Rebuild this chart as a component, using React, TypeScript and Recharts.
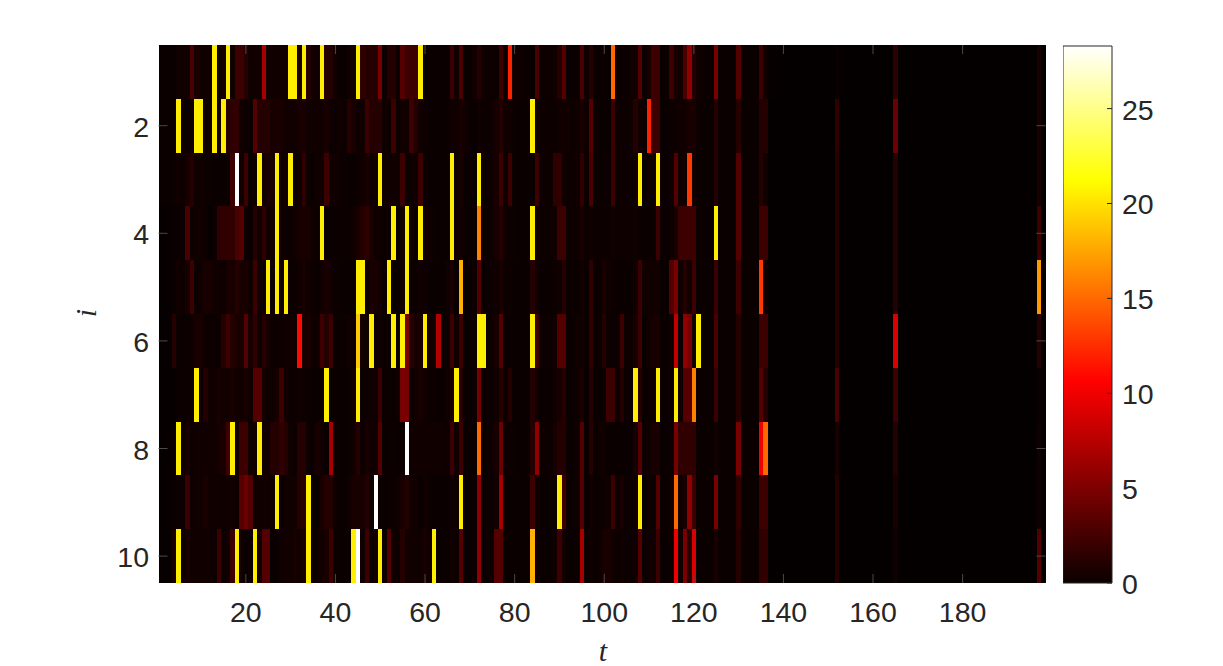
import React from 'react'
import { BarChart, Bar, XAxis, YAxis } from 'recharts'

// columns are t = 1..198 (colour -> value)
const row1 = [
    .4,.4,.4,.4,.7,.7,.7,3,1,.7,.7,.7,20.5,.7,.7,20.5,.7,2.5,2.5,1.5,
    .7,.7,.7,7,.7,.7,.7,.7,.7,20.5,20.5,1,20.5,1.5,.7,.7,20.5,1.5,1.5,.7,
    .4,.4,.7,.7,20.5,2,1.5,1.5,1.5,5,.5,1.5,1.5,.5,3.5,2.5,2.5,2.5,20.5,.4,
    .4,.4,.4,.4,.4,2.5,.7,3,.4,.4,.7,1.5,.7,.5,.5,.5,2.5,.5,12,.7,
    .7,.5,.4,.4,3,.5,.5,.5,.7,1.5,3.5,.4,.4,.4,3,.5,1.5,.4,.4,.4,
    .4,15,.4,.4,.4,.7,.7,3.5,.5,1,2.5,2.5,.4,.4,2.5,1,.7,3,6,1.5,
    .7,.5,.4,.4,5,.4,.4,.4,.4,3.5,.4,.4,.4,.4,2.5,.7,.3,.3,.2,.2,
    .2,.2,.2,.2,.2,.2,.2,.2,.2,.2,.2,.4,.2,.2,.2,.2,.2,.2,.2,.2,
    .2,.2,.2,.2,2,.2,.2,.2,.2,.2,.2,.2,.2,.2,.2,.2,.2,.2,.2,.2,
    .2,.2,.2,.2,.2,.2,.2,.2,.2,.2,.2,.2,.2,.2,.2,.2,1,.2,
]
const row2 = [
    .4,.4,.4,.4,20.5,.5,.5,.5,20.5,20.5,.7,.7,20.5,.7,20.5,1.5,2,2,.7,.5,
    .5,3.5,1.5,1.5,1.5,1,1,1,.7,.7,.7,1,1,.7,.7,.7,.7,1,.5,.5,
    .7,.5,1.5,1,.5,.7,2.5,1.5,1.5,1.5,.7,.5,2.5,.5,.7,.7,2.5,1.5,.7,.5,
    .4,.4,.4,.4,.4,.7,.7,1,.7,.4,.4,.7,.5,.5,.5,1,1.5,.7,.7,.5,
    .4,.4,.4,20.5,.7,.5,.5,.5,.5,.7,.7,.7,.5,.7,1,.7,3.5,.5,.4,.4,
    .4,2.5,.5,.5,.5,.7,1.5,.7,.5,12,2.5,2.5,.4,.4,.5,.5,.7,.7,1,1,
    .5,.4,.4,.4,1.5,.4,.4,.4,.4,1.5,.4,.4,.4,.4,1.5,1.5,.2,.2,.2,.2,
    .2,.2,.2,.2,.2,.2,.2,.2,.2,.2,.2,2,.2,.2,.2,.2,.2,.2,.2,.2,
    .2,.2,.2,.2,4.5,.2,.2,.2,.2,.2,.2,.2,.2,.2,.2,.2,.2,.2,.2,.2,
    .2,.2,.2,.2,.2,.2,.2,.2,.2,.2,.2,.2,.2,.2,.2,.2,1,.2,
]
const row3 = [
    .4,.4,.4,.5,.7,.5,1,1.5,.7,.7,.5,.5,.4,.4,.4,.5,2.5,28.3,.7,2.5,
    .4,.5,20.5,.7,1,1,20.5,.7,.7,20.5,.5,.7,2,.5,.4,.7,.7,2.5,.7,.7,
    .5,.5,.4,.4,.5,.7,1,.7,.7,20.5,.7,.7,.7,.7,2.5,.5,.5,.7,2.5,.5,
    .4,.4,.4,.4,.4,20.5,.5,1,.4,.4,.4,20.5,.5,.5,.5,1,2.5,.5,2.5,.5,
    .4,.4,.4,.4,2.5,.5,.5,.5,2,2,.7,.5,.5,.7,2,.5,3,.5,.4,.4,
    .5,2.5,.5,.5,.5,.5,.7,20.5,.4,.5,.5,20.5,.5,.4,.7,3.5,.7,.7,13,.7,
    .4,.4,.4,.4,1.5,.4,.4,.4,.4,3.5,.4,.4,.4,.4,1.5,.7,.2,.2,.2,.2,
    .2,.2,.2,.2,.2,.2,.2,.2,.2,.2,.2,1.5,.2,.2,.2,.2,.2,.2,.2,.2,
    .2,.2,.2,.2,1.5,.2,.2,.2,.2,.2,.2,.2,.2,.2,.2,.2,.2,.2,.2,.2,
    .2,.2,.2,.2,.2,.2,.2,.2,.2,.2,.2,.2,.2,.2,.2,.2,1,.2,
]
const row4 = [
    .3,.3,.3,.4,.4,.5,3,.5,.7,.7,.5,.3,.5,2,2,2,2,3,3.5,.5,
    .4,1.5,.7,2,.7,.7,20.5,.7,.5,.5,.7,1,1,1,.5,.5,20.5,.4,.4,.4,
    .5,.5,.5,.7,1,1.5,2,1,.7,.5,.5,.5,20.5,.4,.7,20.5,.7,.4,20.5,.7,
    .7,.5,.4,.4,.4,20.5,.7,.7,.4,.4,.4,16,.5,.5,.5,1,1.5,.7,.5,.5,
    .4,.4,.4,20.5,.7,.5,.5,.5,.7,2.5,2.5,.5,.5,.7,1,.5,.7,.5,.5,.5,
    .5,.7,.5,.5,.5,.5,.7,.4,.4,.4,.5,2.5,.5,.4,.5,1,2.5,2.5,2.5,2.5,
    .5,.4,.4,.4,20.5,.4,.4,.4,.4,3.5,.4,.4,.4,.4,2.5,2.5,.2,.2,.2,.2,
    .2,.2,.2,.2,.2,.2,.2,.2,.2,.2,.2,1.5,.2,.2,.2,.2,.2,.2,.2,.2,
    .2,.2,.2,.2,1.5,.2,.2,.2,.2,.2,.2,.2,.2,.2,.2,.2,.2,.2,.2,.2,
    .2,.2,.2,.2,.2,.2,.2,.2,.2,.2,.2,.2,.2,.2,.2,.2,2.5,.2,
]
const row5 = [
    .3,.3,.3,.4,.7,.5,1,2.5,.5,.7,1,1,.7,.7,.5,1,1,1.5,1,1,
    .7,2.5,.7,.5,20.5,.5,20.5,.7,20.5,.5,.5,.7,1,.7,.5,.4,.7,1,.7,.5,
    .4,.4,.4,.4,20.5,20.5,.5,1,1,.7,.4,20.5,.4,.4,.7,20.5,.4,.5,.7,.5,
    .4,.4,.4,.4,.7,1,.4,18,.4,.4,.5,3.5,.4,.5,.5,.7,1,.5,.5,.4,
    .4,.4,.4,1.5,.7,.4,.4,.4,.5,.7,1.5,.4,.4,.4,.7,.4,2,.4,.4,1,
    .7,.5,.4,.4,.4,.4,.7,2.5,.7,.7,.7,.7,.4,.4,3.5,5,.7,1.5,.7,2.5,
    .4,.4,.4,.4,2.5,.4,.4,.4,.4,2.5,.4,.4,.4,.4,13,.7,.2,.2,.2,.2,
    .2,.2,.2,.2,.2,.2,.2,.2,.2,.2,.2,1.5,.2,.2,.2,.2,.2,.2,.2,.2,
    .2,.2,.2,.2,1.5,.2,.2,.2,.2,.2,.2,.2,.2,.2,.2,.2,.2,.2,.2,.2,
    .2,.2,.2,.2,.2,.2,.2,.2,.2,.2,.2,.2,.2,.2,.2,.2,17,.2,
]
const row6 = [
    .3,.3,.3,1.5,.5,.4,.5,.5,1,1,.5,.5,.5,.5,1.5,2.5,1.5,1,1,3.5,
    1,2,.7,1.5,1,.5,.5,.5,.7,.7,.7,11,1,1,.5,.7,2.5,1.5,2.5,.4,
    .4,.5,.7,.5,19,.7,.7,20.5,.5,.7,.5,.5,20.5,.5,20.5,5,1.5,1,1,20.5,
    .7,.7,7.5,.4,.5,2.5,.7,2.5,.4,.4,.5,20.5,20.5,.4,.5,1,3.5,.4,.4,.4,
    .4,.4,.4,20.5,2.5,.5,.5,.5,.7,3.5,3.5,.4,.4,.7,.7,.4,2,.4,.5,1.5,
    .5,.5,.5,2.5,.5,.5,1,2.5,.4,.7,1,1,.4,.4,.7,8,.5,6,5,.7,
    20.5,.4,.4,.4,3,.4,.4,.4,.4,1.5,.4,.4,.4,.4,2.5,2.5,.2,.2,.2,.2,
    .2,.2,.2,.2,.2,.2,.2,.2,.2,.2,.2,1.5,.2,.2,.2,.2,.2,.2,.2,.2,
    .2,.2,.2,.2,9,.2,.2,.2,.2,.2,.2,.2,.2,.2,.2,.2,.2,.2,.2,.2,
    .2,.2,.2,.2,.2,.2,.2,.2,.2,.2,.2,.2,.2,.2,.2,.2,1.5,.2,
]
const row7 = [
    .3,.3,.3,.3,.4,.5,.5,.5,20.5,.5,1.5,.7,.7,1,.7,.7,1,.7,.7,1,
    .7,3.5,3.5,1,.5,.7,1,2.5,.7,.5,.5,.7,.5,.5,.4,.4,.5,20.5,.4,.4,
    .4,.4,.5,.7,20.5,.5,.5,.7,.7,2.5,.5,.5,.4,.7,5,5,.5,.7,1,.7,
    .5,.5,.4,.4,.7,1,20.5,1.5,.4,.4,.5,5,.4,.5,.5,.7,1.5,.5,1.5,.4,
    .4,.4,.4,1.5,.7,.4,.4,.4,.7,1,1.5,.4,.4,.7,1,.4,1.5,.4,.4,.5,
    2.5,2.5,.5,1.5,.5,.5,20.5,1.5,.4,.5,.5,20.5,.4,.4,.5,20.5,.7,3.5,3.5,16,
    .4,.4,.4,.4,2.5,.4,.4,.4,.4,1.5,.4,.4,.4,.4,3.5,1.5,.2,.2,.2,.2,
    .2,.2,.2,.2,.2,.2,.2,.2,.2,.2,.2,3,.2,.2,.2,.2,.2,.2,.2,.2,
    .2,.2,.2,.2,2.5,.2,.2,.2,.2,.2,.2,.2,.2,.2,.2,.2,.2,.2,.2,.2,
    .2,.2,.2,.2,.2,.2,.2,.2,.2,.2,.2,.2,.2,.2,.2,.2,.4,.2,
]
const row8 = [
    .3,.3,.3,.4,20.5,.5,1,.5,.7,.7,.7,.7,.7,1,1,2.5,20.5,.7,2.5,2.5,
    .7,.7,20.5,.7,.7,1.5,1.5,2,1.5,.7,.4,1.5,1.5,.5,.4,1,.7,.4,7,.5,
    .4,.4,.5,.7,1.5,.5,1,.7,.7,3.5,.4,.5,.5,.4,.5,28.3,.7,.7,.7,.7,
    .7,.7,.7,.7,.5,2.5,.7,2.5,.4,.4,.4,15,.4,.5,.5,1,4.5,.5,.5,.5,
    .4,.4,.4,1.5,6,.5,.5,.5,1,1.5,1.5,.4,.4,.7,3.5,.4,1.5,.4,.7,.7,
    .4,.4,.4,.4,.4,.4,1,3.5,.5,.7,1,1,.4,.4,.5,5,2,2,2,2,
    .4,.4,.4,.4,.7,.4,.4,.4,.4,5,.4,.4,.4,.4,10,15,.2,.2,.2,.2,
    .2,.2,.2,.2,.2,.2,.2,.2,.2,.2,.2,1,.2,.2,.2,.2,.2,.2,.2,.2,
    .2,.2,.2,.2,1.5,.2,.2,.2,.2,.2,.2,.2,.2,.2,.2,.2,.2,.2,.2,.2,
    .2,.2,.2,.2,.2,.2,.2,.2,.2,.2,.2,.2,.2,.2,.2,.2,.7,.2,
]
const row9 = [
    .3,.3,.3,.4,.5,.4,2.5,.5,.7,.7,1,.7,.7,.7,.5,.7,.7,.7,3.5,4.5,
    3.5,.7,.7,.7,.7,.5,20.5,.4,.7,.7,.7,1.5,1.5,20.5,.4,.4,1,1.5,1.5,.5,
    .4,.4,.7,1,1,1,1.5,.5,28.3,.5,.4,.5,.5,.7,1,1.5,.7,.7,.4,.7,
    .5,.4,.4,.4,.4,.5,.7,20.5,.4,.4,.5,6,.4,.5,.5,.7,7,.4,.4,.4,
    .4,.4,.4,2.5,.5,.4,.4,.5,.5,20.5,2.5,.4,.4,.7,3.5,.4,.7,.4,.5,.5,
    .7,2.5,.5,1,.5,.5,.7,20.5,.4,.5,.5,3.5,.4,.4,.7,15,.7,1,6,2.5,
    .4,.4,.4,.4,5,.4,.4,.4,.4,2,.4,.4,.4,.4,2.5,2.5,.2,.2,.2,.2,
    .2,.2,.2,.2,.2,.2,.2,.2,.2,.2,.2,1.5,.2,.2,.2,.2,.2,.2,.2,.2,
    .2,.2,.2,.2,1,.2,.2,.2,.2,.2,.2,.2,.2,.2,.2,.2,.2,.2,.2,.2,
    .2,.2,.2,.2,.2,.2,.2,.2,.2,.2,.2,.2,.2,.2,.2,.2,.7,.2,
]
const row10 = [
    .3,.3,.3,1,20.5,.5,1,.7,.7,.7,.7,.7,.5,2.5,.5,.7,2.5,20.5,.7,.4,
    .5,20.5,.7,3.5,3.5,.4,.4,.7,.7,.7,1,.7,1,20.5,.5,.7,.7,1,2.5,.5,
    .4,.4,.4,20.5,28.3,.7,2.5,.5,.7,20.5,.5,3.5,.7,.5,1.5,.7,.7,.7,.7,1,
    .7,20.5,.4,.4,.4,.7,.5,3.5,.4,.4,.5,6,.4,.5,.5,3.5,3.5,.4,.4,.4,
    .4,.4,.4,18,.5,.4,.4,.4,.7,2.5,.7,.4,.4,.5,7,.5,.7,.4,.5,1,
    1,.7,.5,.7,.5,.5,.7,3.5,.5,.7,.7,2.5,.4,.4,.5,10,.7,5,1.5,9,
    .4,.4,.4,.4,1,.4,.4,.4,.4,1.5,.4,.4,.4,.4,2,2,.2,.2,.2,.2,
    .2,.2,.2,.2,.2,.2,.2,.2,.2,.2,.2,1.5,.2,.2,.2,.2,.2,.2,.2,.2,
    .2,.2,.2,.2,.7,.2,.2,.2,.2,.2,.2,.2,.2,.2,.2,.2,.2,.2,.2,.2,
    .2,.2,.2,.2,.2,.2,.2,.2,.2,.2,.2,.2,.2,.2,.2,.2,3.5,.2,
]
const rows = [row1, row2, row3, row4, row5, row6, row7, row8, row9, row10]

const tTicks = [20, 40, 60, 80, 100, 120, 140, 160, 180]
const iTicks = [2, 4, 6, 8, 10]
const barTicks = [0, 5, 10, 15, 20, 25]
const maxValue = 28.3

const textColor = '#262626'
const tickFont = '"Liberation Sans", Arial, sans-serif'
const labelFont = '"Liberation Serif", "Times New Roman", serif'

const PLOT_LEFT = 158.5
const PLOT_RIGHT = 1045.5
const PLOT_TOP = 45
const PLOT_BOTTOM = 583
const COL_WIDTH = (PLOT_RIGHT - PLOT_LEFT) / 198

// matlab "hot" colormap
const hot = (v: number) => {
    const f = Math.min(1, v / maxValue)
    const r = Math.min(1, f / 0.375)
    const g = Math.max(0, Math.min(1, (f - 0.375) / 0.375))
    const b = Math.max(0, Math.min(1, (f - 0.75) / 0.25))
    return `rgb(${Math.round(r * 255)},${Math.round(g * 255)},${Math.round(b * 255)})`
}

const table = rows[0].map((_, idx) => {
    const item: Record<string, number> = { t: idx + 1 }
    rows.forEach((row, r) => {
        item[`s${r}`] = 1
        item[`v${r}`] = row[idx]
    })
    return item
})

// the library floors the bar width, so the cell keeps the full column width.
// on the reversed axis the height comes in negative
const cell = (r: number) => (p: any) => (
    <rect
        x={p.x}
        y={Math.min(p.y, p.y + p.height)}
        width={COL_WIDTH}
        height={Math.abs(p.height)}
        fill={hot(p.payload[`v${r}`])}
        shapeRendering='crispEdges'
    />
)

const TTick = (p: any) => (
    <g>
        <line x1={p.x} x2={p.x} y1={PLOT_BOTTOM} y2={PLOT_BOTTOM - 9} stroke='#4a4a4a' />
        <line x1={p.x} x2={p.x} y1={PLOT_TOP} y2={PLOT_TOP + 9} stroke='#4a4a4a' />
        <text x={p.x} y={622} textAnchor='middle' fontSize={28.5} fontFamily={tickFont} fill={textColor}>
            {p.payload.value}
        </text>
    </g>
)

const ITick = (p: any) => (
    <g>
        <line x1={PLOT_LEFT} x2={PLOT_LEFT + 9} y1={p.y} y2={p.y} stroke='#4a4a4a' />
        <line x1={PLOT_RIGHT} x2={PLOT_RIGHT - 9} y1={p.y} y2={p.y} stroke='#4a4a4a' />
        <text x={149} y={p.y + 11} textAnchor='end' fontSize={28.5} fontFamily={tickFont} fill={textColor}>
            {p.payload.value + 0.5}
        </text>
    </g>
)

const BarTick = (p: any) => (
    <g>
        <line x1={49} x2={44} y1={p.y} y2={p.y} stroke={textColor} />
        <text x={59} y={p.y + 11} fontSize={28.5} fontFamily={tickFont} fill={textColor}>
            {p.payload.value}
        </text>
    </g>
)

const App: React.FC = () => {
    return (
        <div style={{ position: 'absolute', left: 0, top: 0, width: 1223, height: 666 }}>
            <div style={{ position: 'absolute', left: 0, top: 0 }}>
                <BarChart
                    width={1223}
                    height={666}
                    data={table}
                    barCategoryGap={0}
                    barGap={0}
                    margin={{ top: PLOT_TOP, right: 1223 - PLOT_RIGHT, left: PLOT_LEFT - 60, bottom: 666 - PLOT_BOTTOM - 40 }}
                >
                    <XAxis
                        dataKey='t'
                        height={40}
                        ticks={tTicks}
                        interval={0}
                        axisLine={false}
                        tickLine={false}
                        tick={(p: any) => <TTick {...p} />}
                    />
                    <YAxis
                        type='number'
                        width={60}
                        reversed
                        domain={[0, 10]}
                        ticks={iTicks.map((i) => i - 0.5)}
                        interval={0}
                        axisLine={false}
                        tickLine={false}
                        tick={(p: any) => <ITick {...p} />}
                    />
                    {rows.map((_, r) => (
                        <Bar
                            key={r}
                            dataKey={`s${r}`}
                            stackId='cols'
                            fill='#000000'
                            shape={cell(r)}
                            isAnimationActive={false}
                        />
                    ))}
                    <text x={603} y={661} textAnchor='middle' fontSize={30} fontStyle='italic' fontFamily={labelFont} fill={textColor}>
                        t
                    </text>
                    <text
                        x={96}
                        y={313}
                        textAnchor='middle'
                        fontSize={30}
                        fontStyle='italic'
                        fontFamily={labelFont}
                        fill={textColor}
                        transform='rotate(-90 96 313)'
                    >
                        i
                    </text>
                </BarChart>
            </div>
            <div style={{ position: 'absolute', left: 1063, top: 26 }}>
                <BarChart
                    width={120}
                    height={577}
                    data={[{ name: 'scale', value: maxValue }]}
                    barCategoryGap={0}
                    margin={{ top: 20, right: 0, left: 0, bottom: 20 }}
                >
                    <defs>
                        <linearGradient id='hotScale' x1='0' y1='1' x2='0' y2='0'>
                            <stop offset='0' stopColor='#0b0000' />
                            <stop offset='0.375' stopColor='#ff0000' />
                            <stop offset='0.75' stopColor='#ffff00' />
                            <stop offset='1' stopColor='#ffffff' />
                        </linearGradient>
                    </defs>
                    <XAxis dataKey='name' hide />
                    <YAxis
                        orientation='right'
                        type='number'
                        width={71}
                        domain={[0, maxValue]}
                        ticks={barTicks}
                        interval={0}
                        axisLine={false}
                        tickLine={false}
                        tick={(p: any) => <BarTick {...p} />}
                    />
                    <Bar dataKey='value' fill='url(#hotScale)' stroke={textColor} strokeWidth={1} isAnimationActive={false} />
                </BarChart>
            </div>
        </div>
    )
}

export default App
